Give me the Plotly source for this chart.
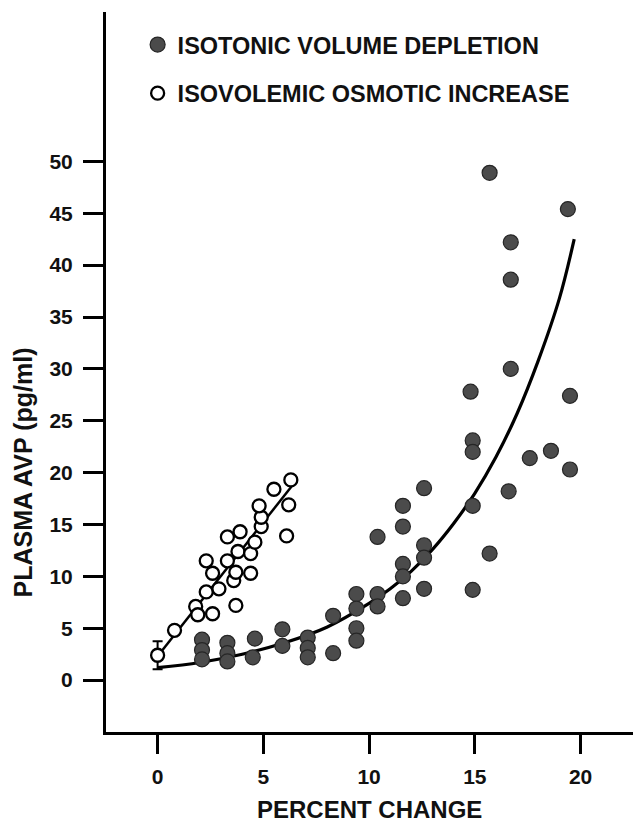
import plotly.graph_objects as go

# isotonic volume depletion (filled circles): percent change vs plasma AVP
depl_x = [2.1, 2.1, 2.1, 3.3, 3.3, 3.3, 4.6, 4.5, 5.9, 5.9, 7.1, 7.1, 7.1,
          8.3, 8.3, 9.4, 9.4, 9.4, 9.4, 10.4, 10.4, 10.4, 11.6, 11.6, 11.6,
          11.6, 11.6, 12.6, 12.6, 12.6, 12.6, 14.8, 14.9, 14.9, 14.9, 14.9,
          15.7, 15.7, 16.7, 16.7, 16.7, 16.6, 17.6, 18.6, 19.4, 19.5, 19.5]
depl_y = [3.9, 2.9, 2.0, 3.6, 2.6, 1.8, 4.0, 2.2, 4.9, 3.3, 4.1, 3.1, 2.2,
          6.2, 2.6, 8.3, 6.9, 5.0, 3.8, 8.3, 7.1, 13.8, 16.8, 14.8, 11.2,
          10.0, 7.9, 18.5, 13.0, 11.8, 8.8, 27.8, 23.1, 22.0, 16.8, 8.7,
          48.9, 12.2, 42.2, 38.6, 30.0, 18.2, 21.4, 22.1, 45.4, 27.4, 20.3]

# isovolemic osmotic increase (open circles)
osm_x = [0.0, 0.8, 1.8, 1.9, 2.6, 2.3, 2.9, 2.3, 2.6, 3.3, 3.3, 3.6, 3.7,
         3.7, 3.8, 3.9, 4.4, 4.4, 4.6, 4.9, 4.9, 4.8, 5.5, 6.3, 6.2, 6.1]
osm_y = [2.4, 4.8, 7.1, 6.3, 6.4, 8.5, 8.8, 11.5, 10.3, 13.8, 11.5, 9.6, 10.4,
         7.2, 12.4, 14.3, 12.2, 10.3, 13.3, 14.8, 15.7, 16.8, 18.4, 19.3, 16.9, 13.9]
osm_err = [1.35] + [0] * (len(osm_x) - 1)

# fitted curves
depl_fit_x = [0, 2, 4, 6, 8, 10, 11, 12, 13, 14, 15, 16, 17, 18, 19, 19.7]
depl_fit_y = [1.2, 1.7, 2.5, 3.6, 5.1, 7.4, 8.8, 10.5, 12.6, 15.1, 18.0, 21.5,
              25.7, 30.8, 36.8, 42.5]
osm_fit_x = [0, 6.5]
osm_fit_y = [2.3, 19.1]

x_ticks = [0, 5, 10, 15, 20]
y_ticks = [0, 5, 10, 15, 20, 25, 30, 35, 40, 45, 50]

FONT = "Liberation Sans, Arial, sans-serif"

fig = go.Figure()
fig.add_trace(go.Scatter(x=depl_fit_x, y=depl_fit_y, mode="lines",
                         line=dict(color="black", width=3.2, shape="spline"),
                         showlegend=False, hoverinfo="skip"))
fig.add_trace(go.Scatter(x=osm_fit_x, y=osm_fit_y, mode="lines",
                         line=dict(color="black", width=2.5),
                         showlegend=False, hoverinfo="skip"))
fig.add_trace(go.Scatter(x=depl_x, y=depl_y, mode="markers",
                         name="ISOTONIC VOLUME DEPLETION", legendgroup="a",
                         marker=dict(size=15, color="#4b4b4b",
                                     line=dict(color="#262626", width=1.2))))
fig.add_trace(go.Scatter(x=osm_x, y=osm_y, mode="markers",
                         name="ISOVOLEMIC OSMOTIC INCREASE", legendgroup="b",
                         error_y=dict(type="data", array=osm_err, visible=True,
                                      color="black", thickness=2, width=5),
                         marker=dict(size=13, color="white",
                                     line=dict(color="black", width=2.3))))

axis_common = dict(showline=True, linecolor="black", linewidth=3,
                   ticks="outside", tickcolor="black", tickwidth=2.5,
                   showgrid=False, zeroline=False,
                   tickfont=dict(family=FONT, size=21, color="#111", weight="bold"))

fig.update_layout(
    width=625, height=814,
    margin=dict(l=98, r=0, t=4, b=90),
    plot_bgcolor="white", paper_bgcolor="white",
    xaxis=dict(range=[-2.44, 22.48], tickvals=x_ticks, ticklen=19,
               ticklabelstandoff=5, **axis_common),
    yaxis=dict(range=[-5, 64.4], tickvals=y_ticks, ticklen=20,
               ticklabelstandoff=6, **axis_common),
    legend=dict(x=0.06, y=0.985, xanchor="left", yanchor="top",
                traceorder="grouped", tracegroupgap=15,
                bgcolor="rgba(0,0,0,0)",
                font=dict(family=FONT, size=23.5, color="#111", weight="bold")),
    annotations=[
        dict(text="PERCENT CHANGE", xref="paper", yref="paper",
             x=0.5, y=-0.107, xanchor="center", yanchor="middle",
             showarrow=False,
             font=dict(family=FONT, size=24, color="#111", weight="bold")),
        dict(text="PLASMA AVP (pg/ml)", xref="paper", yref="paper",
             x=-0.158, y=0.36, xanchor="center", yanchor="middle",
             textangle=-90, showarrow=False,
             font=dict(family=FONT, size=25, color="#111", weight="bold")),
    ],
)

fig.write_html("out.html")
